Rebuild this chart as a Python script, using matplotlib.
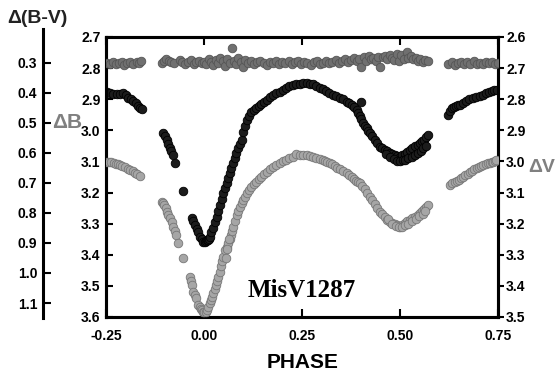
import matplotlib
matplotlib.use("Agg")
import matplotlib.pyplot as plt

plt.rcParams['font.family'] = ['Liberation Sans', 'DejaVu Sans']

# ---- data read off the light curve of MisV1287 ----
# Delta B (black, left axis)
b_phase = [-0.248, -0.240, -0.232, -0.223, -0.215, -0.206, -0.199, -0.193, -0.186,
           -0.180, -0.174, -0.168, -0.163, -0.159,
           -0.104, -0.100, -0.095, -0.091, -0.087, -0.083, -0.079, -0.074, -0.053,
           -0.031, -0.027, -0.023, -0.019, -0.015, -0.010, -0.006, -0.002, 0.002,
           0.005, 0.008, 0.010, 0.013, 0.015, 0.019, 0.023, 0.027, 0.032, 0.036,
           0.041, 0.045, 0.049, 0.053, 0.058, 0.062, 0.066, 0.070, 0.074, 0.079,
           0.083, 0.088, 0.092, 0.096, 0.100, 0.104, 0.109, 0.114, 0.120, 0.127,
           0.134, 0.140, 0.145, 0.152, 0.160, 0.168, 0.176, 0.185, 0.194, 0.201,
           0.209, 0.218, 0.228, 0.236, 0.245, 0.253, 0.262, 0.270, 0.278, 0.287,
           0.296, 0.303, 0.311, 0.320, 0.330, 0.338, 0.347, 0.355, 0.364, 0.371,
           0.378, 0.384, 0.390, 0.394, 0.398, 0.402, 0.406, 0.410, 0.415, 0.419,
           0.423, 0.430, 0.436, 0.442, 0.449, 0.455, 0.462, 0.468, 0.474, 0.480,
           0.487, 0.493, 0.500, 0.506, 0.513, 0.519, 0.526, 0.532, 0.538, 0.545,
           0.551, 0.556, 0.561, 0.566, 0.572,
           0.465, 0.475, 0.485, 0.492, 0.500, 0.507, 0.514, 0.522, 0.530, 0.538,
           0.546, 0.553, 0.560, 0.566,
           0.623, 0.628, 0.633, 0.638, 0.643, 0.648, 0.653, 0.660, 0.668, 0.676,
           0.687, 0.695, 0.704, 0.712, 0.721, 0.728, 0.735, 0.741, 0.747]
b_mag = [2.876, 2.879, 2.883, 2.883, 2.882, 2.881, 2.888, 2.897, 2.900,
         2.905, 2.912, 2.922, 2.927, 2.932,
         3.010, 3.020, 3.031, 3.045, 3.058, 3.068, 3.079, 3.105, 3.195,
         3.282, 3.293, 3.305, 3.316, 3.327, 3.342, 3.350, 3.358, 3.360,
         3.356, 3.354, 3.353, 3.348, 3.342, 3.328, 3.314, 3.296, 3.278, 3.259,
         3.240, 3.222, 3.203, 3.186, 3.170, 3.154, 3.138, 3.121, 3.105, 3.090,
         3.074, 3.057, 3.044, 3.031, 3.005, 2.985, 2.967, 2.953, 2.941, 2.935,
         2.929, 2.922, 2.915, 2.909, 2.903, 2.894, 2.886, 2.881, 2.876, 2.870,
         2.864, 2.859, 2.854, 2.851, 2.850, 2.849, 2.849, 2.850, 2.851, 2.857,
         2.865, 2.869, 2.874, 2.880, 2.886, 2.891, 2.896, 2.901, 2.908, 2.913,
         2.919, 2.926, 2.935, 2.944, 2.954, 2.965, 2.977, 2.985, 2.992, 3.001,
         3.010, 3.020, 3.031, 3.042, 3.053, 3.058, 3.063, 3.068, 3.074, 3.077,
         3.080, 3.083, 3.085, 3.081, 3.076, 3.070, 3.063, 3.057, 3.051, 3.046,
         3.042, 3.036, 3.031, 3.023, 3.015,
         3.075, 3.085, 3.092, 3.098, 3.100, 3.097, 3.094, 3.090, 3.086, 3.080,
         3.073, 3.066, 3.058, 3.050,
         2.951, 2.938, 2.928, 2.925, 2.922, 2.920, 2.919, 2.912, 2.906, 2.901,
         2.897, 2.893, 2.890, 2.886, 2.881, 2.877, 2.874, 2.872, 2.870]
b_outlier_phase = [0.402]
b_outlier_mag = [2.908]

# Delta V (light grey, right axis)
v_phase = [-0.248, -0.242, -0.237, -0.230, -0.224, -0.219, -0.214, -0.208, -0.202,
           -0.195, -0.189, -0.182, -0.176, -0.170, -0.163,
           -0.108, -0.105, -0.102, -0.098, -0.095, -0.091, -0.087, -0.082, -0.078,
           -0.074, -0.071, -0.066, -0.053, -0.036, -0.033, -0.031, -0.027, -0.023,
           -0.020, -0.015, -0.011, -0.008, -0.005, -0.002, 0.001, 0.004, 0.007,
           0.011, 0.015, 0.018, 0.021, 0.024, 0.028, 0.031, 0.034, 0.036, 0.040,
           0.043, 0.046, 0.049, 0.054, 0.058, 0.062, 0.066, 0.069, 0.072, 0.075,
           0.080, 0.084, 0.088, 0.092, 0.096, 0.099, 0.104, 0.109, 0.114, 0.120,
           0.127, 0.134, 0.140, 0.145, 0.152, 0.160, 0.168, 0.176, 0.185, 0.194,
           0.201, 0.209, 0.218, 0.228, 0.236, 0.245, 0.253, 0.262, 0.270, 0.279,
           0.287, 0.296, 0.303, 0.309, 0.315, 0.321, 0.328, 0.334, 0.340, 0.347,
           0.355, 0.364, 0.371, 0.378, 0.384, 0.388, 0.393, 0.398, 0.404, 0.411,
           0.417, 0.423, 0.430, 0.436, 0.442, 0.449, 0.455, 0.462, 0.468, 0.474,
           0.480, 0.487, 0.493, 0.500, 0.506, 0.513, 0.519, 0.526, 0.532, 0.538,
           0.545, 0.551, 0.556, 0.561, 0.566, 0.572,
           0.470, 0.480, 0.490, 0.497, 0.505, 0.512, 0.520, 0.530, 0.540, 0.550,
           0.558, 0.565,
           0.055, 0.060, 0.065,
           0.628, 0.634, 0.640, 0.646, 0.651, 0.656, 0.661, 0.667, 0.673, 0.679,
           0.684, 0.690, 0.696, 0.702, 0.707, 0.713, 0.719, 0.725, 0.730, 0.734,
           0.738, 0.742, 0.746]
v_mag = [3.001, 3.001, 3.002, 3.005, 3.008, 3.010, 3.012, 3.015, 3.018,
         3.023, 3.028, 3.032, 3.037, 3.042, 3.047,
         3.130, 3.135, 3.140, 3.151, 3.162, 3.172, 3.182, 3.196, 3.210,
         3.224, 3.237, 3.263, 3.312, 3.371, 3.384, 3.397, 3.419, 3.429,
         3.439, 3.462, 3.469, 3.475, 3.479, 3.483, 3.485, 3.484, 3.476,
         3.467, 3.456, 3.446, 3.435, 3.424, 3.411, 3.397, 3.384, 3.371, 3.354,
         3.336, 3.321, 3.306, 3.285, 3.274, 3.263, 3.250, 3.237, 3.224, 3.210,
         3.191, 3.172, 3.159, 3.146, 3.135, 3.124, 3.113, 3.103, 3.092, 3.082,
         3.073, 3.065, 3.057, 3.050, 3.041, 3.033, 3.025, 3.018, 3.012, 3.006,
         3.000, 2.995, 2.990, 2.985, 2.976, 2.979, 2.978, 2.979, 2.982, 2.985,
         2.988, 2.992, 2.995, 2.999, 3.002, 3.006, 3.010, 3.015, 3.020, 3.024,
         3.031, 3.038, 3.044, 3.050, 3.056, 3.063, 3.066, 3.070, 3.080, 3.089,
         3.101, 3.114, 3.125, 3.137, 3.150, 3.162, 3.170, 3.179, 3.187, 3.194,
         3.198, 3.202, 3.206, 3.210, 3.204, 3.198, 3.193, 3.188, 3.183, 3.179,
         3.173, 3.167, 3.160, 3.153, 3.147, 3.140,
         3.185, 3.200, 3.208, 3.212, 3.210, 3.205, 3.200, 3.193, 3.185, 3.176,
         3.168, 3.158,
         3.310, 3.280, 3.250,
         3.076, 3.071, 3.066, 3.063, 3.060, 3.055, 3.049, 3.045, 3.040, 3.035,
         3.031, 3.026, 3.022, 3.018, 3.015, 3.011, 3.008, 3.006, 3.005, 3.003,
         3.001, 2.998, 2.996]

# Delta(B-V) (dark grey, outer left axis)
bv_phase = [-0.248, -0.240, -0.232, -0.225, -0.218, -0.210, -0.203, -0.196, -0.188,
            -0.180, -0.172, -0.165, -0.160,
            -0.108, -0.102, -0.096, -0.090, -0.083, -0.076, -0.062, -0.055, -0.048,
            -0.040, -0.033, -0.026, -0.020, -0.013, -0.006, 0.000, 0.006, 0.012,
            0.018, 0.024, 0.030, 0.036, 0.042, 0.048, 0.054, 0.060, 0.066, 0.071,
            0.076, 0.082, 0.088, 0.094, 0.100, 0.106, 0.112, 0.120, 0.128, 0.136,
            0.144, 0.152, 0.160, 0.168, 0.176, 0.184, 0.192, 0.200, 0.208, 0.216,
            0.224, 0.232, 0.240, 0.248, 0.256, 0.264, 0.272, 0.280, 0.288, 0.296,
            0.304, 0.312, 0.320, 0.328, 0.336, 0.344, 0.352, 0.360, 0.368, 0.376,
            0.384, 0.390, 0.396, 0.402, 0.408, 0.414, 0.420, 0.426, 0.432, 0.438,
            0.444, 0.450, 0.456, 0.462, 0.468, 0.474, 0.480, 0.486, 0.492, 0.498,
            0.504, 0.510, 0.517, 0.522, 0.528, 0.534, 0.540, 0.546, 0.552, 0.558,
            0.565, 0.572,
            0.624, 0.632, 0.640, 0.648, 0.656, 0.664, 0.672, 0.680, 0.688, 0.696,
            0.704, 0.712, 0.720, 0.728, 0.736, 0.744, 0.750]
bv_val = [0.300, 0.303, 0.298, 0.305, 0.300, 0.296, 0.306, 0.301, 0.298,
          0.303, 0.296, 0.300, 0.295,
          0.300, 0.292, 0.288, 0.293, 0.297, 0.300, 0.290, 0.297, 0.302,
          0.296, 0.290, 0.303, 0.298, 0.292, 0.300, 0.296, 0.304, 0.286,
          0.297, 0.308, 0.290, 0.300, 0.284, 0.295, 0.310, 0.288, 0.300, 0.250,
          0.292, 0.305, 0.282, 0.296, 0.312, 0.290, 0.300, 0.294, 0.305, 0.298,
          0.292, 0.300, 0.306, 0.296, 0.300, 0.293, 0.303, 0.298, 0.301, 0.294,
          0.304, 0.298, 0.292, 0.302, 0.296, 0.300, 0.306, 0.297, 0.293, 0.303,
          0.299, 0.295, 0.301, 0.296, 0.289, 0.299, 0.293, 0.286, 0.297, 0.290,
          0.282, 0.294, 0.287, 0.315, 0.280, 0.292, 0.276, 0.288, 0.284, 0.294,
          0.279, 0.312, 0.281, 0.276, 0.286, 0.272, 0.283, 0.290, 0.270, 0.292,
          0.275, 0.286, 0.264, 0.283, 0.276, 0.288, 0.284, 0.293, 0.287, 0.296,
          0.290, 0.294,
          0.303, 0.298, 0.306, 0.300, 0.296, 0.304, 0.298, 0.302, 0.295, 0.303,
          0.299, 0.305, 0.297, 0.301, 0.296, 0.302, 0.299]

x_ticks = [-0.25, 0.0, 0.25, 0.5, 0.75]
x_ticklabels = ['-0.25', '0.00', '0.25', '0.50', '0.75']
b_ticks = [2.7, 2.8, 2.9, 3.0, 3.1, 3.2, 3.3, 3.4, 3.5, 3.6]
v_ticks = [2.6, 2.7, 2.8, 2.9, 3.0, 3.1, 3.2, 3.3, 3.4, 3.5]
bv_ticks = [0.3, 0.4, 0.5, 0.6, 0.7, 0.8, 0.9, 1.0, 1.1]

fig = plt.figure(figsize=(5.55, 3.78), dpi=100)
ax = fig.add_axes([0.191, 0.1614, 0.706, 0.741])

# main axis: Delta B
ax.set_xlim(-0.25, 0.75)
ax.set_ylim(3.6, 2.7)
ax.set_xticks(x_ticks)
ax.set_xticklabels(x_ticklabels)
ax.set_yticks(b_ticks)
ax.set_yticklabels(['%.1f' % t for t in b_ticks])
ax.tick_params(axis='x', direction='in', top=True, length=6, width=1.5,
               pad=9, labelsize=10)
ax.tick_params(axis='y', direction='in', length=5, width=1.5, pad=4, labelsize=10)
for lab in ax.get_xticklabels() + ax.get_yticklabels():
    lab.set_fontweight('bold')
for sp in ax.spines.values():
    sp.set_linewidth(2.2)

# right axis: Delta V
axv = ax.twinx()
axv.set_ylim(3.5, 2.6)
axv.set_yticks(v_ticks)
axv.set_yticklabels(['%.1f' % t for t in v_ticks])
axv.tick_params(axis='y', direction='out', length=4, width=1.5, pad=2, labelsize=10)
for lab in axv.get_yticklabels():
    lab.set_fontweight('bold')
for sp in axv.spines.values():
    sp.set_linewidth(2.2)

# hidden axis carrying the Delta(B-V) scale
axbv = ax.twinx()
axbv.set_ylim(1.1467, 0.2133)
axbv.axis('off')

ms = 38
axbv.scatter(bv_phase, bv_val, s=ms, c='#707070', edgecolors='#555555',
             linewidths=0.6, zorder=3)
axv.scatter(v_phase, v_mag, s=ms, c='#a6a6a6', edgecolors='#777777',
            linewidths=0.6, zorder=3)
ax.scatter(b_phase, b_mag, s=ms, c='#1c1c1c', edgecolors='#000000',
           linewidths=0.6, zorder=3)
ax.scatter(b_outlier_phase, b_outlier_mag, s=ms, c='#1c1c1c',
           edgecolors='#000000', linewidths=0.6, zorder=3)

# outer left axis: Delta(B-V)
axo = fig.add_axes([0.0775, 0.1587, 0.0001, 0.765])
axo.set_ylim(1.15, 0.1867)
axo.set_xticks([])
axo.set_yticks(bv_ticks)
axo.set_yticklabels(['%.1f' % t for t in bv_ticks])
axo.tick_params(axis='y', direction='in', length=6, width=1.5, pad=4, labelsize=10)
for lab in axo.get_yticklabels():
    lab.set_fontweight('bold')
for name in ['top', 'right', 'bottom']:
    axo.spines[name].set_visible(False)
axo.spines['left'].set_linewidth(2.2)
axo.patch.set_visible(False)

fig.text(0.068, 0.952, '\u0394(B-V)', ha='center', va='center',
         fontsize=14, fontweight='bold', color='#222222')
fig.text(0.121, 0.677, '\u0394B', ha='center', va='center',
         fontsize=15, fontweight='bold', color='#808080')
fig.text(0.976, 0.556, '\u0394V', ha='center', va='center',
         fontsize=14, fontweight='bold', color='#808080')
fig.text(0.545, 0.040, 'PHASE', ha='center', va='center',
         fontsize=15, fontweight='bold')
fig.text(0.447, 0.214, 'MisV1287', ha='left', va='baseline',
         fontsize=18, fontweight='bold', family='Liberation Serif')

fig.savefig('out.png', dpi=100)
